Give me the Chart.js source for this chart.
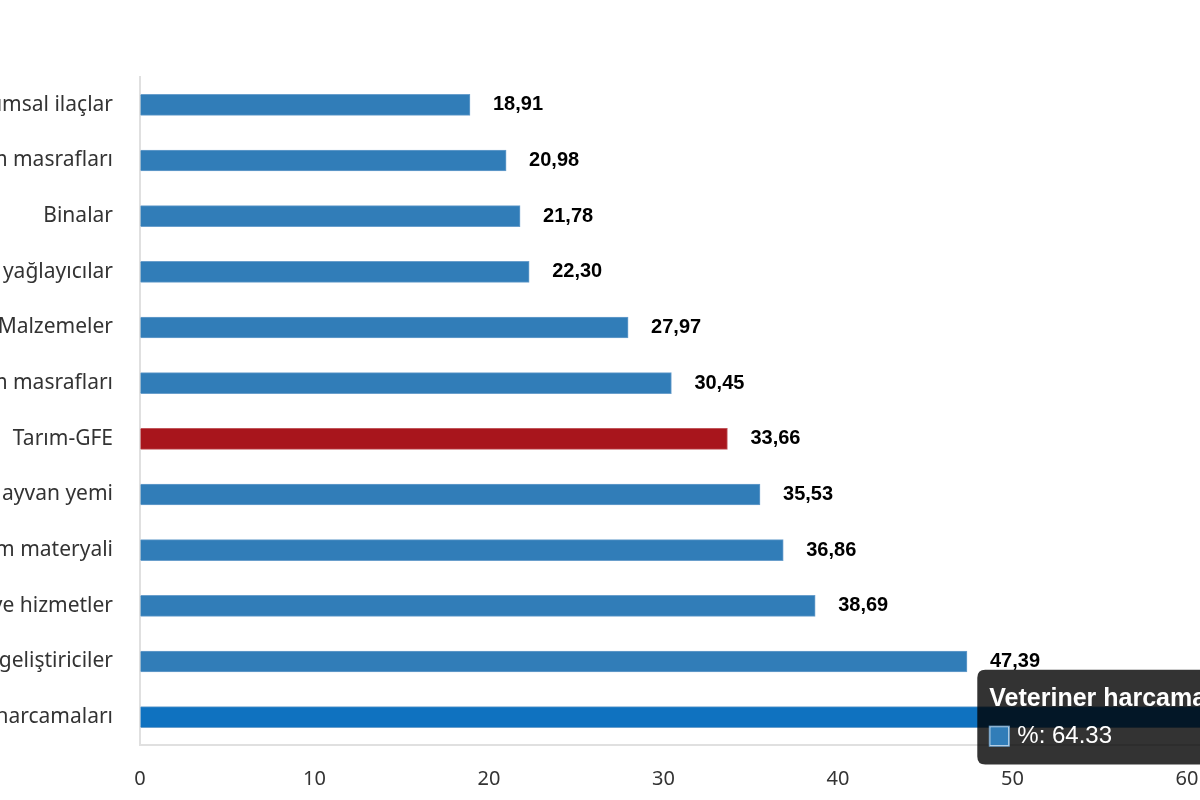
<!DOCTYPE html>
<html>
<head>
<meta charset="utf-8">
<script src="https://cdn.jsdelivr.net/npm/chart.js@4/dist/chart.umd.min.js"></script>
<style>
  html, body { margin: 0; padding: 0; background: #fff; overflow: hidden; }
  #wrap { position: absolute; left: -260px; top: 0; width: 1655px; height: 800px; }
</style>
</head>
<body>
<div id="wrap"><canvas id="chart"></canvas></div>
<script>
const categories = [
    'Bitki koruma ürünleri ve tarımsal ilaçlar',
    'Bina bakım masrafları',
    'Binalar',
    'Enerji ve yağlayıcılar',
    'Malzemeler',
    'Malzeme bakım masrafları',
    'Tarım-GFE',
    'Hayvan yemi',
    'Tohum ve dikim materyali',
    'Diğer mal ve hizmetler',
    'Gübre ve toprak geliştiriciler',
    'Veteriner harcamaları'
];
const values = [18.91, 20.98, 21.78, 22.30, 27.97, 30.45, 33.66, 35.53, 36.86, 38.69, 47.39, 64.33];
const seriesLabel = '%';
const highlight = 'Tarım-GFE';

const blue = '#317db8';
const red = '#a8151c';
let barColors = categories.map(c => c === highlight ? red : blue);
let barBorders = categories.map(c => c === highlight ? '#c0555a' : '#6a9fcc');
let hoverColors = categories.map(c => c === highlight ? '#c01820' : '#0f72c0');

const valueLabels = {
    id: 'valueLabels',
    afterDatasetsDraw(chart) {
        const ctx = chart.ctx;
        const meta = chart.getDatasetMeta(0);
        ctx.save();
        ctx.font = 'bold 20px "Liberation Sans", Arial, sans-serif';
        ctx.fillStyle = '#000';
        ctx.textBaseline = 'middle';
        ctx.textAlign = 'left';
        meta.data.forEach((bar, i) => {
            let txt = values[i].toFixed(2).replace('.', ',');
            ctx.fillText(txt, bar.x + 23, bar.y);
        });
        ctx.restore();
    }
};

const ctx = document.getElementById('chart');
const myChart = new Chart(ctx, {
    type: 'bar',
    data: {
        labels: categories,
        datasets: [{
            label: seriesLabel,
            data: values,
            backgroundColor: barColors,
            borderColor: barBorders,
            borderWidth: 1,
            hoverBackgroundColor: hoverColors,
            hoverBorderColor: barBorders,
            barThickness: 21
        }]
    },
    options: {
        indexAxis: 'y',
        responsive: true,
        maintainAspectRatio: false,
        animation: false,
        layout: { padding: { top: 77, right: 28, left: 0, bottom: 0 } },
        plugins: {
            legend: { display: false },
            tooltip: {
                backgroundColor: 'rgba(0,0,0,0.8)',
                titleFont: { family: '"Liberation Sans", Arial, sans-serif', size: 25, weight: 'bold' },
                bodyFont: { family: '"Liberation Sans", Arial, sans-serif', size: 24 },
                padding: { x: 12, y: 14 },
                titleMarginBottom: 8,
                cornerRadius: 8,
                boxWidth: 20,
                boxHeight: 20,
                boxPadding: 6
            }
        },
        scales: {
            x: {
                min: 0,
                max: 70,
                ticks: {
                    stepSize: 10,
                    padding: 22,
                    color: '#333',
                    font: { family: '"Noto Sans", sans-serif', size: 20 }
                },
                grid: { drawOnChartArea: false, drawTicks: false },
                border: { color: '#e0e0e0', width: 2 },
                afterFit: (axis) => { axis.height = 55; }
            },
            y: {
                ticks: {
                    padding: 27,
                    color: '#333',
                    font: { family: '"Noto Sans", sans-serif', size: 21 }
                },
                grid: { drawOnChartArea: false, drawTicks: false },
                border: { color: '#e0e0e0', width: 2 },
                afterFit: (axis) => { axis.width = 400; }
            }
        }
    },
    plugins: [valueLabels]
});

// show the hovered state on the last bar, as in the picture
const last = categories.length - 1;
const active = [{ datasetIndex: 0, index: last }];
myChart.setActiveElements(active);
const el = myChart.getDatasetMeta(0).data[last];
myChart.tooltip.setActiveElements(active, { x: el.x, y: el.y });
myChart.update();
</script>
</body>
</html>
